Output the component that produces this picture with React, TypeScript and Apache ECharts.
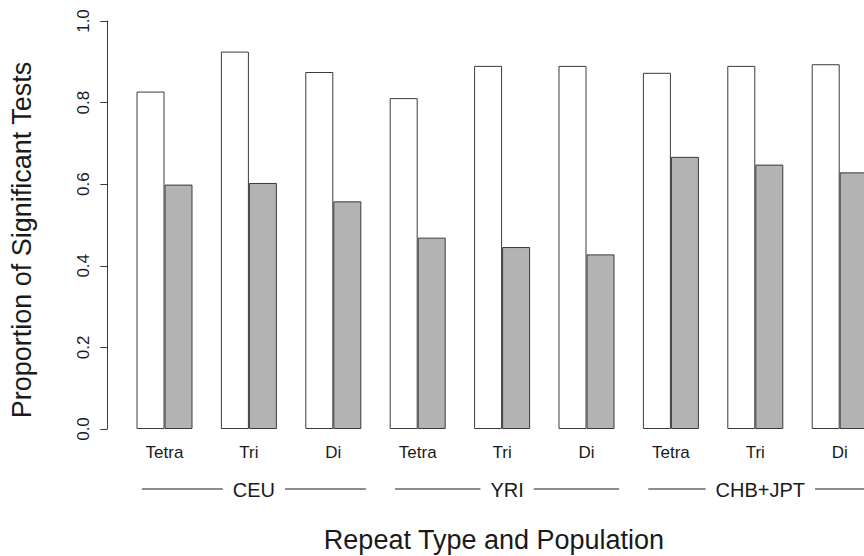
import React, { useEffect, useRef } from 'react';
import * as echarts from 'echarts';

const categories = ['Tetra', 'Tri', 'Di', 'Tetra', 'Tri', 'Di', 'Tetra', 'Tri', 'Di'];
const populations = ['CEU', 'YRI', 'CHB+JPT'];
const whiteValues = [0.827, 0.925, 0.875, 0.811, 0.890, 0.890, 0.873, 0.890, 0.894];
const grayValues = [0.599, 0.603, 0.558, 0.469, 0.446, 0.428, 0.667, 0.648, 0.629];
const yMin = 0;
const yMax = 1;
const yStep = 0.2;
const xTitle = 'Repeat Type and Population';
const yTitle = 'Proportion of Significant Tests';

const FONT = '"Liberation Sans", Arial, Helvetica, sans-serif';
const INK = '#1a1a1a';
const EDGE = '#3a3a3a';

export default function App() {
  const ref = useRef<HTMLDivElement>(null);

  useEffect(() => {
    if (!ref.current) return;
    const chart = echarts.init(ref.current, null, { renderer: 'svg' });
    chart.setOption({
      animation: false,
      backgroundColor: '#ffffff',
      textStyle: { fontFamily: FONT },
      grid: {
        left: 122.3,
        top: 21,
        right: -17.9,
        bottom: 127,
        containLabel: false,
        outerBoundsMode: 'none',
      },
      xAxis: {
        type: 'category',
        data: categories,
        axisLine: { show: false },
        axisTick: { show: false },
        splitLine: { show: false },
        axisLabel: { fontSize: 17, color: INK, margin: 15, fontFamily: FONT, interval: 0 },
      },
      yAxis: {
        type: 'value',
        min: yMin,
        max: yMax,
        interval: yStep,
        offset: 15,
        splitLine: { show: false },
        axisLine: { show: true, lineStyle: { color: EDGE, width: 1 } },
        axisTick: { show: true, length: 7, lineStyle: { color: EDGE, width: 1 } },
        axisLabel: {
          rotate: 90,
          fontSize: 17,
          margin: 15,
          color: INK,
          fontFamily: FONT,
          formatter: (v: number) => v.toFixed(1),
        },
      },
      series: [
        {
          type: 'bar',
          data: whiteValues,
          barWidth: 28,
          barGap: '0%',
          itemStyle: { color: '#ffffff', borderColor: EDGE, borderWidth: 1 },
        },
        {
          type: 'bar',
          data: grayValues,
          barWidth: 28,
          barGap: '0%',
          itemStyle: { color: '#b3b3b3', borderColor: EDGE, borderWidth: 1 },
        },
      ],
    });

    const y0 = chart.convertToPixel({ yAxisIndex: 0 }, 0) as number;
    const elements: any[] = [];
    populations.forEach((p, i) => {
      const mid = (chart.convertToPixel({ xAxisIndex: 0 }, i * 3 + 1) as number) + 5;
      const ly = y0 + 60;
      elements.push({
        type: 'line',
        shape: { x1: mid - 112, y1: ly, x2: mid + 112, y2: ly },
        style: { stroke: INK, lineWidth: 1 },
        z: 10,
      });
      elements.push({
        type: 'text',
        x: mid,
        y: ly + 1,
        z: 11,
        style: {
          text: p,
          fontSize: 20,
          fontFamily: FONT,
          fill: INK,
          align: 'center',
          verticalAlign: 'middle',
          backgroundColor: '#ffffff',
          padding: [2, 10],
        },
      });
    });
    elements.push({
      type: 'text',
      x: 494,
      y: 540,
      style: {
        text: xTitle,
        fontSize: 27,
        fontFamily: FONT,
        fill: INK,
        align: 'center',
        verticalAlign: 'middle',
      },
    });
    elements.push({
      type: 'text',
      x: 22,
      y: 240,
      rotation: Math.PI / 2,
      style: {
        text: yTitle,
        fontSize: 27,
        fontFamily: FONT,
        fill: INK,
        align: 'center',
        verticalAlign: 'middle',
      },
    });
    chart.setOption({ graphic: { elements } });

    return () => {
      chart.dispose();
    };
  }, []);

  return (
    <div
      ref={ref}
      style={{ position: 'fixed', left: 0, top: 0, width: 864, height: 556, background: '#fff' }}
    />
  );
}
